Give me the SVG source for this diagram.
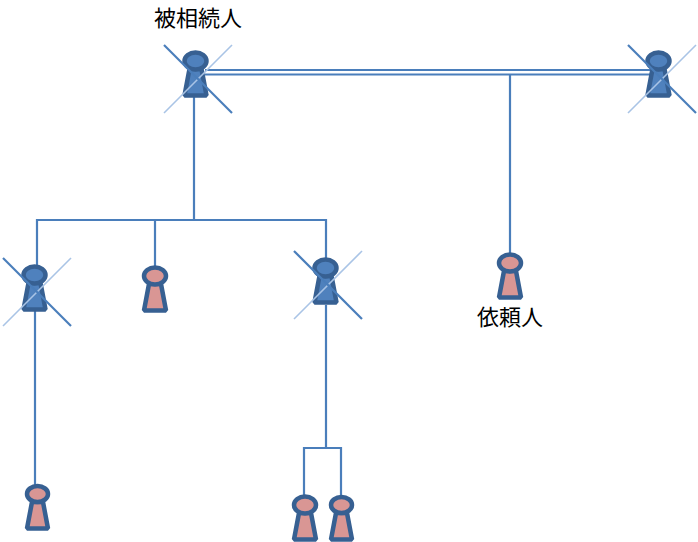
<svg xmlns="http://www.w3.org/2000/svg" width="698" height="542" viewBox="0 0 698 542">
<style>
.c{fill:none;stroke:#4A7EBB;stroke-width:2.200}
.x1{stroke:#4A7EBB;stroke-width:2.200}
.x2{stroke:#A9C4E6;stroke-width:1.600}
.fig{stroke:#376092;stroke-width:4.500;stroke-linejoin:bevel}
.pink{fill:#D99694}
.blue{fill:#4F81BD}
text{font-family:"Noto Sans CJK JP","Noto Sans CJK SC",sans-serif;font-size:22px;fill:#000}
</style>
<defs>
<g id="person"><path d="M-6,8 L6,8 L11,34.500 L-11,34.500 Z"/><ellipse cx="0" cy="0" rx="11" ry="8.500"/></g>
<g id="person-s"><path d="M-5.500,8 L5.500,8 L10.500,34.500 L-10.500,34.500 Z"/><ellipse cx="0" cy="0" rx="10.500" ry="8"/></g>
<g id="cross"><line class="x2" x1="34" y1="-34" x2="-34" y2="34"/><line class="x1" x1="-34" y1="-34" x2="34" y2="34"/></g>
</defs>
<g id="connectors">
<path class="c" d="M205,70H650M205,74.500H650"/>
<path class="c" d="M510,74V254"/>
<path class="c" d="M194,97V220M37,266V220H326V259M155,220V267"/>
<path class="c" d="M35,310V485"/>
<path class="c" d="M326,305V448M304,496V448H341V496"/>
</g>
<g id="n-decedent"><use href="#person" class="fig blue" x="195.500" y="61"/><use href="#cross" x="198" y="79"/><text x="154" y="26">被相続人</text></g>
<g id="n-spouse"><use href="#person" class="fig blue" x="658.500" y="61"/><use href="#cross" x="662" y="79"/></g>
<g id="n-child1"><use href="#person" class="fig blue" x="34.500" y="275"/><use href="#cross" x="37" y="292"/></g>
<g id="n-child2"><use href="#person" class="fig pink" x="155" y="276"/></g>
<g id="n-child3"><use href="#person" class="fig blue" x="325.500" y="268"/><use href="#cross" x="328" y="285"/></g>
<g id="n-client"><use href="#person" class="fig pink" x="510" y="263"/><text x="477" y="325">依頼人</text></g>
<g id="n-grand1"><use href="#person-s" class="fig pink" x="37.500" y="494"/></g>
<g id="n-grand2"><use href="#person" class="fig pink" x="305" y="505"/></g>
<g id="n-grand3"><use href="#person-s" class="fig pink" x="341.500" y="505"/></g>
</svg>
